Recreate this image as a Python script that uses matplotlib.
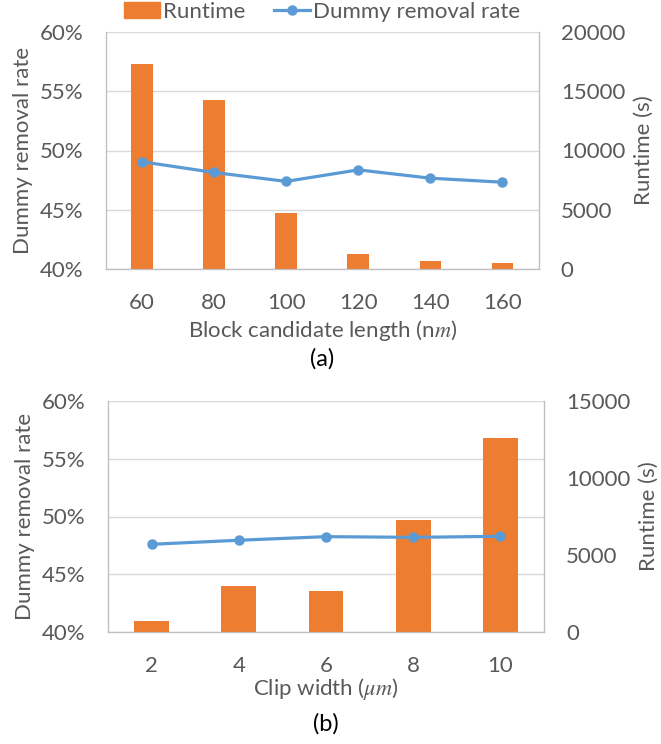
import numpy as np
import matplotlib
matplotlib.use("Agg")
import matplotlib.pyplot as plt
from matplotlib.patches import Patch
from matplotlib.lines import Line2D

# panel (a)
lengths = ["60", "80", "100", "120", "140", "160"]
runtime_a = [17300, 14250, 4700, 1300, 720, 500]
rate_a = [49.05, 48.15, 47.4, 48.37, 47.67, 47.33]

# panel (b)
widths = ["2", "4", "6", "8", "10"]
runtime_b = [750, 3000, 2700, 7300, 12600]
rate_b = [47.6, 47.95, 48.26, 48.2, 48.29]

ORANGE = "#ED7D31"
BLUE = "#5B9BD5"
TXT = "#595959"
GRID = "#d9d9d9"
SPINE = "#bfbfbf"
FS = 16

plt.rcParams["font.family"] = ["Lato", "DejaVu Sans"]
plt.rcParams["mathtext.fontset"] = "stix"
plt.rcParams["font.size"] = FS

W, H = 661, 744
fig = plt.figure(figsize=(W / 100, H / 100), dpi=100)


def px_rect(x0, x1, ytop, ybot):
    return [x0 / W, 1 - ybot / H, (x1 - x0) / W, (ybot - ytop) / H]


def panel(rect, cats, runtime, rate, rmax, bar_w, xlabel, xpad):
    ax = fig.add_axes(rect)
    ax2 = ax.twinx()
    ax3 = ax.twinx()
    x = np.arange(len(cats))

    # grid + left axis
    ax.set_ylim(40, 60)
    ax.set_yticks([40, 45, 50, 55, 60])
    ax.set_yticklabels([f"{v}%" for v in [40, 45, 50, 55, 60]])
    ax.grid(axis="y", color=GRID, lw=1)
    ax.set_axisbelow(True)
    ax.set_xlim(-0.5, len(cats) - 0.5)
    ax.set_xticks(x)
    ax.set_xticklabels(cats)
    ax.set_ylabel("Dummy removal rate", color=TXT, labelpad=5)
    ax.set_xlabel(xlabel, color=TXT, labelpad=xpad)

    # bars on the runtime axis
    ax2.bar(x, runtime, width=bar_w, color=ORANGE)
    ax2.set_ylim(0, rmax)
    ax2.set_yticks(np.arange(0, rmax + 1, 5000))
    ax2.set_ylabel("Runtime (s)", color=TXT, labelpad=6)

    # line on top
    ax3.plot(x, rate, color=BLUE, lw=2.3, marker="o", ms=6.5)
    ax3.set_ylim(40, 60)
    ax3.set_yticks([])

    for a in (ax, ax2, ax3):
        for s in a.spines.values():
            s.set_color(SPINE)
        a.spines["top"].set_visible(False)
        a.tick_params(length=0, colors=TXT, labelsize=FS)
    ax.tick_params(axis="y", pad=16)
    ax.tick_params(axis="x", pad=17)
    ax2.tick_params(axis="y", pad=16)
    return ax


ax_a = panel(px_rect(106, 538.5, 31.7, 269.3), lengths, runtime_a, rate_a, 20000, 0.30,
             "Block candidate length (n$m$)", 4)
ax_b = panel(px_rect(108, 544, 400.7, 632.3), widths, runtime_b, rate_b, 15000, 0.40,
             "Clip width ($\\mu m$)", 0)

handles = [Patch(color=ORANGE, label="Runtime"),
           Line2D([], [], color=BLUE, lw=2.3, marker="o", ms=6.5, label="Dummy removal rate")]
ax_a.legend(handles=handles, loc="lower center", bbox_to_anchor=(0.5, 1.0), ncol=2,
            frameon=False, fontsize=FS, labelcolor=TXT, handlelength=1.6,
            columnspacing=1.3, handletextpad=0.15, borderaxespad=0.05)

fig.text(322 / W, 1 - 359 / H, "(a)", ha="center", va="center", fontsize=17, color="black")
fig.text(326 / W, 1 - 724 / H, "(b)", ha="center", va="center", fontsize=17, color="black")

fig.savefig("out.png", dpi=100)
